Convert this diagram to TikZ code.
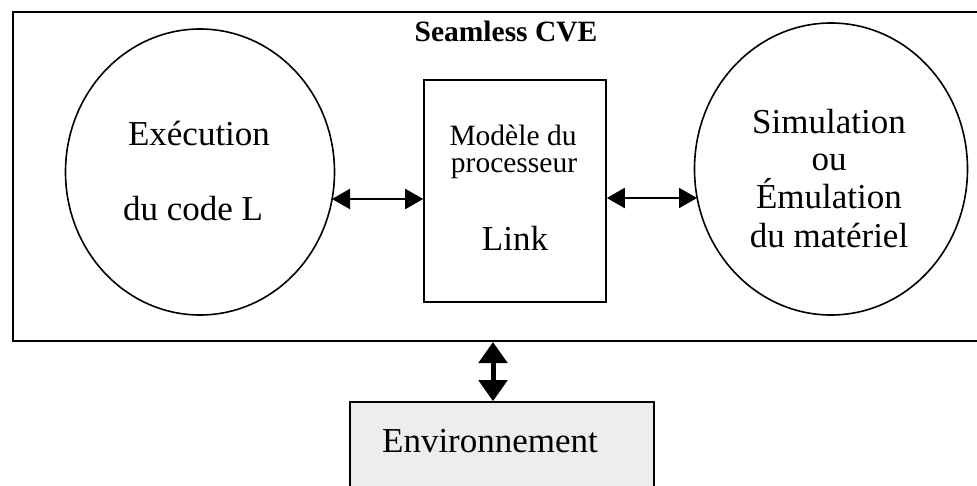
\documentclass[tikz,border=0pt]{standalone}
\usepackage{fontspec}
\setmainfont{Liberation Serif}
\usetikzlibrary{arrows.meta,shapes.geometric,calc}
\tikzset{
  bigtext/.style={font=\fontsize{35}{38}\selectfont, anchor=base, inner sep=0pt},
  midtext/.style={font=\fontsize{29.5}{32}\selectfont, anchor=base, inner sep=0pt},
  titletext/.style={font=\fontsize{29.5}{32}\selectfont\bfseries, anchor=base, inner sep=0pt},
  bubble/.style={draw, ellipse, line width=1.6pt, inner sep=0pt},
  modbox/.style={draw, rectangle, line width=1.6pt, inner sep=0pt},
  harrow/.style={line width=2pt, {Triangle[length=18pt,width=20pt]}-{Triangle[length=18pt,width=20pt]}},
  varrow/.style={line width=5pt, {Triangle[length=21pt,width=28pt]}-{Triangle[length=21pt,width=28pt]}}
}
\begin{document}
\begin{tikzpicture}[x=1pt,y=-1pt]
\useasboundingbox (0,0) rectangle (977,485);
% outer box
\node[draw, rectangle, line width=2pt, minimum width=977pt, minimum height=329pt, inner sep=0pt] (cve) at (501.5,176.5) {};
\node[titletext] (title) at (506,41) {Seamless CVE};
% left ellipse
\node[bubble, minimum width=269pt, minimum height=286pt] (L) at (200,172) {};
\node[bigtext] (l1) at (199,145) {Exécution};
\node[bigtext] (l2) at (193,220) {du code L};
% middle box
\node[modbox, minimum width=182pt, minimum height=222pt] (M) at (515,191) {};
\node[midtext] (m1) at (513,145) {Modèle du};
\node[midtext] (m2) at (514,172) {processeur};
\node[bigtext] (m3) at (515,250) {Link};
% right ellipse
\node[bubble, minimum width=273pt, minimum height=292pt] (R) at (831,169) {};
\node[bigtext] (r1) at (829,133) {Simulation};
\node[bigtext] (r2) at (829,170) {ou};
\node[bigtext] (r3) at (829,208) {Émulation};
\node[bigtext] (r4) at (829,247) {du matériel};
% environment
\node[draw, rectangle, line width=1.6pt, fill=gray!14, minimum width=304pt, minimum height=93pt, inner sep=0pt] (env) at (502,448.5) {};
\node[bigtext] (envt) at (490,452) {Environnement};
% connectors
\coordinate (la) at (332,199);
\coordinate (rb) at (697,198);
\coordinate (ax) at (493,0);
\draw[harrow] (la) -- (la -| M.west);
\draw[harrow] (M.east |- rb) -- (rb);
\draw[varrow] (cve.south -| ax) -- (env.north -| ax);
\end{tikzpicture}
\end{document}
